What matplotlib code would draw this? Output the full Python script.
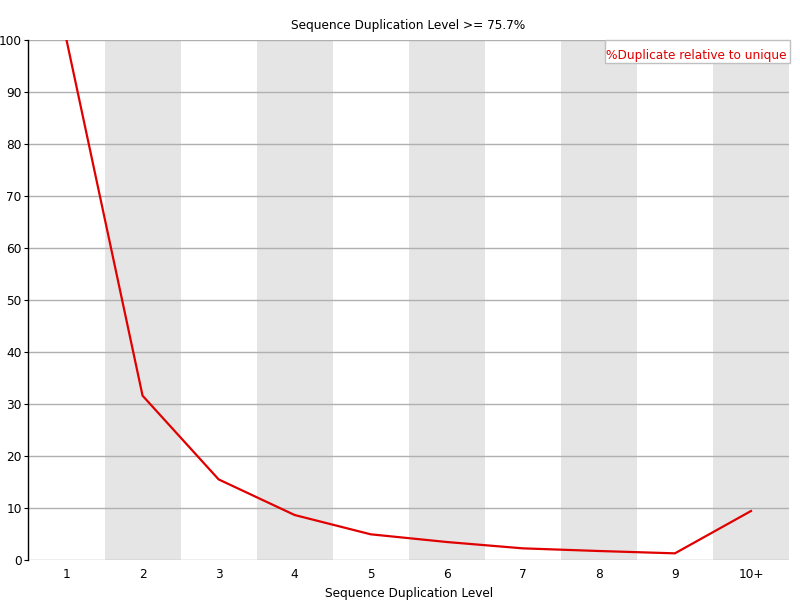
import matplotlib
matplotlib.use("Agg")
import matplotlib.pyplot as plt
from matplotlib.patches import Rectangle

categories = ["1", "2", "3", "4", "5", "6", "7", "8", "9", "10+"]
dup_relative = [100.0, 31.6, 15.5, 8.65, 4.94, 3.46, 2.24, 1.73, 1.28, 9.42]
title = "Sequence Duplication Level >= 75.7%"
series_label = "%Duplicate relative to unique"

W, H = 800, 600
fig = plt.figure(figsize=(8, 6), dpi=100)
ax = fig.add_axes([28.5/W, 40/H, (789-28.5)/W, 520/H])

x = list(range(1, len(categories) + 1))
for i in x:
    if i % 2 == 0:
        ax.axvspan(i - 0.5, i + 0.5, color="#e5e5e5", zorder=0, lw=0)

for yv in range(0, 101, 10):
    ax.axhline(yv, color="#b0b0b0", lw=1, zorder=1)

ax.plot(x, dup_relative, color="#e00000", lw=1.6, zorder=3)

ax.set_xlim(0.5, len(categories) + 0.5)
ax.set_ylim(0, 100)
ax.set_xticks(x)
ax.set_xticklabels(categories, fontsize=8.7)
ax.set_yticks(range(0, 101, 10))
ax.tick_params(axis="y", labelsize=8.7, length=3, pad=2)
ax.tick_params(axis="x", length=0, pad=6)
for s in ["top", "right", "bottom"]:
    ax.spines[s].set_visible(False)
ax.spines["left"].set_color("black")
ax.spines["left"].set_linewidth(1)
ax.set_xlabel("Sequence Duplication Level", fontsize=8.7, labelpad=4)
fig.text(408/W, 1 - 25/H, title, ha="center", va="center", fontsize=8.7)

# legend box
fig.patches.append(Rectangle((605/W, 1 - 63/H), (790 - 605)/W, 23/H,
                             transform=fig.transFigure, facecolor="white",
                             edgecolor="#c0c0c0", lw=1, zorder=5))
fig.text(787/W, 1 - 55/H, series_label, ha="right", va="center",
         color="#e00000", fontsize=8.7, zorder=6)

fig.savefig("out.png", dpi=100)
